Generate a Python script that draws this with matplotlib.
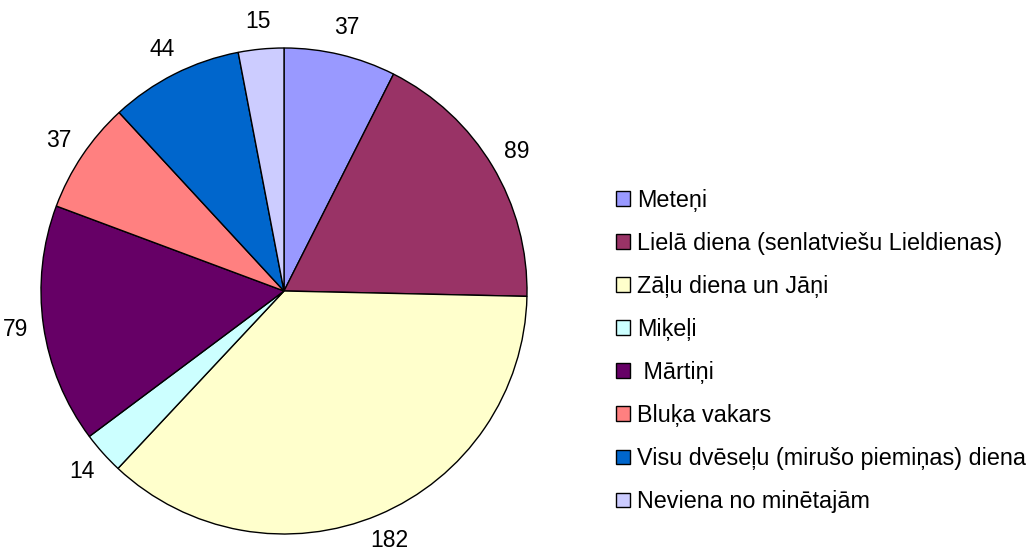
import matplotlib
matplotlib.use('Agg')
import matplotlib.pyplot as plt
from matplotlib.patches import Patch

# dati
labels = ['Meteņi', 'Lielā diena (senlatviešu Lieldienas)', 'Zāļu diena un Jāņi',
          'Miķeļi', ' Mārtiņi', 'Bluķa vakars',
          'Visu dvēseļu (mirušo piemiņas) diena', 'Neviena no minētajām']
values = [37, 89, 182, 14, 79, 37, 44, 15]
colors = ['#9999FF', '#993366', '#FFFFCC', '#CCFFFF', '#660066', '#FF8080',
          '#0066CC', '#CCCCFF']

plt.rcParams['font.family'] = ['Liberation Sans', 'DejaVu Sans']

W, H = 1028, 552
fig = plt.figure(figsize=(W / 100, H / 100), dpi=100)

# pīrāga centrs un rādiuss pikseļos
cx, cy, r = 284, 291, 243
ax = fig.add_axes([(cx - r) / W, (H - cy - r) / H, 2 * r / W, 2 * r / H])

wedges, texts = ax.pie(values, colors=colors, startangle=90, counterclock=False,
                       radius=1, labels=[str(v) for v in values], labeldistance=1.115,
                       wedgeprops={'edgecolor': 'black', 'linewidth': 1},
                       textprops={'fontsize': 16.5, 'clip_on': False})
for t in texts:
    t.set_ha('center')
    t.set_va('center')
ax.set_xlim(-1, 1)
ax.set_ylim(-1, 1)
ax.set_axis_off()

handles = [Patch(facecolor=c, edgecolor='black', linewidth=1) for c in colors]
fig.legend(handles, labels, loc='center left', bbox_to_anchor=(616 / W, 1 - 351 / H),
           frameon=False, fontsize=16.8, handlelength=0.6, handleheight=0.6,
           handletextpad=0.3, labelspacing=0.86, borderpad=0, borderaxespad=0)

fig.savefig('out.png', dpi=100)
